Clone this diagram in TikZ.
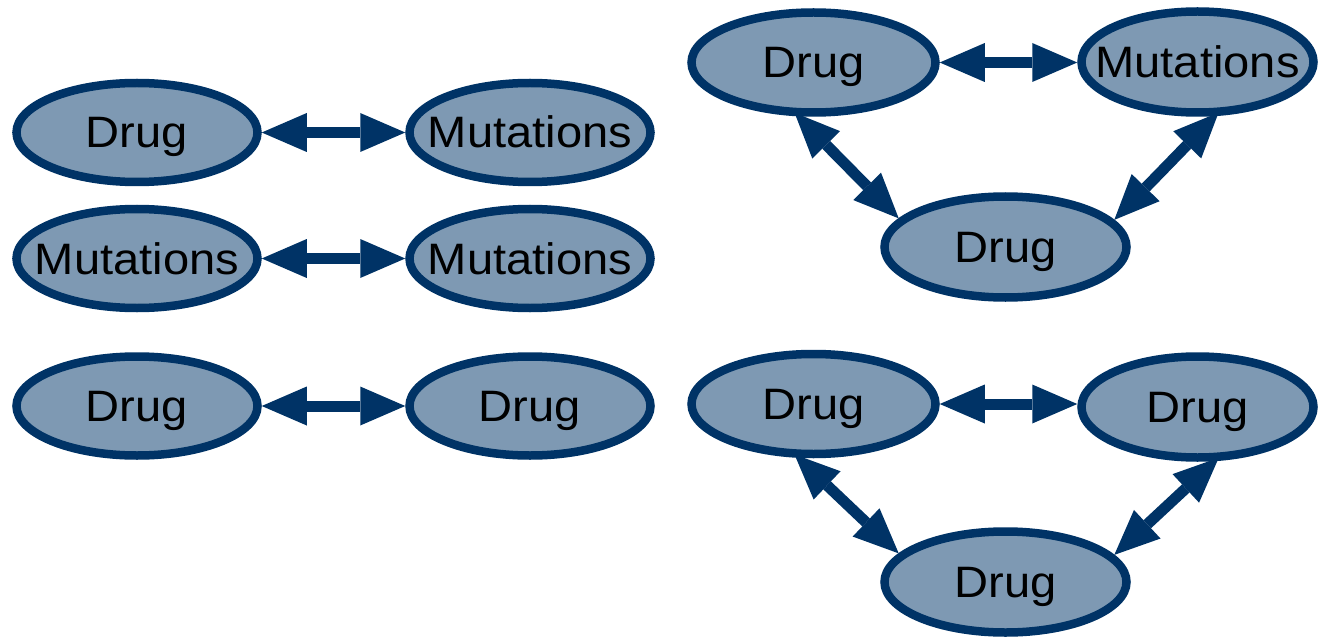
\documentclass[tikz,border=0pt]{standalone}
\usepackage{fontspec}
\setmainfont[FakeStretch=1.07]{Liberation Sans}
\usetikzlibrary{shapes.geometric,arrows.meta}
\definecolor{navy}{HTML}{003366}
\definecolor{steel}{HTML}{7E99B3}
% centred label of zero width, so the ellipse keeps its set size
\newcommand{\lbl}[1]{\makebox[0pt]{#1}}
\begin{document}
\begin{tikzpicture}[x=1pt,y=-1pt,
  oval/.style={ellipse, draw=navy, fill=steel, line width=8.5pt, inner sep=0pt,
    minimum width=241pt, minimum height=99pt,
    font=\fontsize{44}{44}\selectfont, text height=31pt, text depth=0pt},
  link/.style={draw=navy, line width=11pt,
    {Triangle[length=45pt,width=39pt,line width=0pt]}-{Triangle[length=45pt,width=39pt,line width=0pt]}}]
\useasboundingbox (0,0) rectangle (1319,639);

% pairs on the left
\node[oval] (a1) at (137,132.5) {\lbl{Drug}};
\node[oval] (b1) at (530,132.5) {\lbl{Mutations}};
\node[oval] (a2) at (137,258.5) {\lbl{Mutations}};
\node[oval] (b2) at (530,258.5) {\lbl{Mutations}};
\node[oval] (a3) at (137,406) {\lbl{Drug}};
\node[oval] (b3) at (530,406) {\lbl{Drug}};
\draw[link] (a1.east) -- (b1.west);
\draw[link] (a2.east) -- (b2.west);
\draw[link] (a3.east) -- (b3.west);

% upper triangle
\node[oval, minimum width=244pt, minimum height=100pt] (t1) at (813.5,62.5) {\lbl{Drug}};
\node[oval, minimum width=232pt, minimum height=101pt] (t2) at (1197.5,62) {\lbl{Mutations}};
\node[oval, minimum width=242pt, minimum height=101pt] (t3) at (1005.5,247) {\lbl{Drug}};
\draw[link] (t1.east) -- (t1.east -| t2.west);
\draw[link, shorten <=-5pt] (t1.254.5) -- (t3.165);
\draw[link, shorten <=-5pt] (t2.288) -- (t3.14);

% lower triangle
\node[oval, minimum width=244pt, minimum height=100pt] (u1) at (813.5,404) {\lbl{Drug}};
\node[oval, minimum width=232pt, minimum height=101pt] (u2) at (1197.5,407) {\lbl{Drug}};
\node[oval, minimum width=242pt, minimum height=101pt] (u3) at (1005.5,582) {\lbl{Drug}};
\draw[link] (u1.east) -- (u1.east -| u2.west);
\draw[link, shorten <=-5pt] (u1.254.5) -- (u3.165);
\draw[link, shorten <=-5pt] (u2.288) -- (u3.14);
\end{tikzpicture}
\end{document}
